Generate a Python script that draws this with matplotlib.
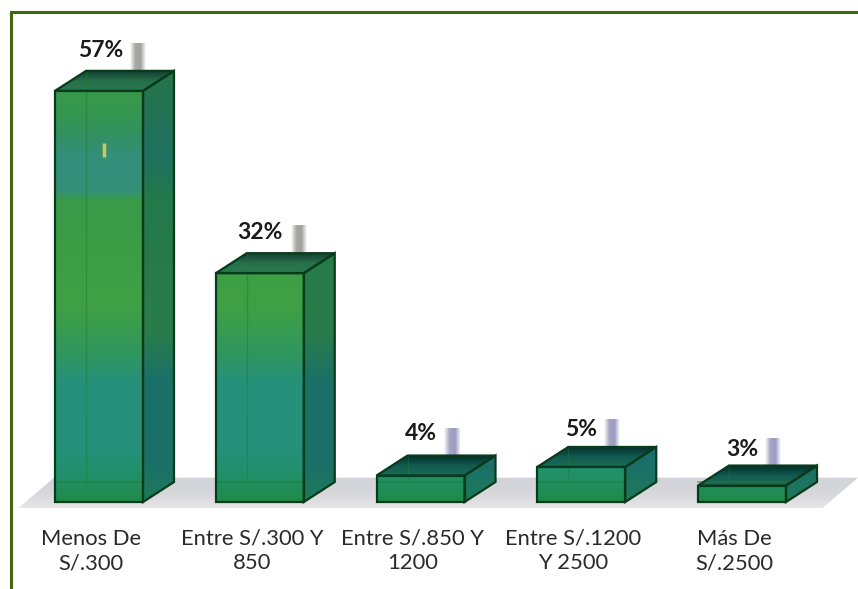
import numpy as np
import matplotlib
matplotlib.use("Agg")
import matplotlib.pyplot as plt
from matplotlib.colors import LinearSegmentedColormap
from matplotlib.patches import Polygon

# datos
categorias = ["Menos De\nS/.300", "Entre S/.300 Y\n850", "Entre S/.850 Y\n1200",
              "Entre S/.1200\nY 2500", "Más De\nS/.2500"]
etiquetas = ["57%", "32%", "4%", "5%", "3%"]
alturas = [57.5, 32.0, 3.7, 4.9, 2.3]

ANCHO, ALTO = 858, 589
PX_X, PX_Y = 160.75, 7.15  # pixeles por categoria y por punto porcentual
X0, Y0 = 99, 502  # pixel de la categoria 0 y de la base
dx, dy = 31 / PX_X, 20 / PX_Y
sube_etiqueta = [20, 21, 22, 17, 16]  # pixeles sobre la tapa

xlim = (-X0 / PX_X, (ANCHO - X0) / PX_X)
ylim = (-(ALTO - Y0) / PX_Y, Y0 / PX_Y)

fig = plt.figure(figsize=(ANCHO / 100, ALTO / 100), dpi=100)
ax = fig.add_axes([0, 0, 1, 1])
ax.axis("off")

# gradiente del frente, de arriba hacia abajo de la figura
frente = LinearSegmentedColormap.from_list("frente", [
    (0.00, "#3a9c48"), (0.10, "#359650"), (0.16, "#338f66"), (0.20, "#33907a"), (0.28, "#338f78"),
    (0.30, "#399a48"), (0.55, "#3fa044"), (0.66, "#2f9660"), (0.72, "#26917a"),
    (0.88, "#24907a"), (0.95, "#219066"), (1.00, "#1f8a48")])
costado = LinearSegmentedColormap.from_list("costado", [
    (0.00, "#25754a"), (0.20, "#1f7060"), (0.30, "#24794a"), (0.60, "#2a7d4a"),
    (0.72, "#1a7068"), (0.92, "#1a7068"), (1.00, "#1f7a58")])
tapa_baja = LinearSegmentedColormap.from_list("tapa", ["#062f2c", "#125c50", "#1e6b58"])
tapa_alta = LinearSegmentedColormap.from_list("t", ["#123f30", "#27704a", "#2a7a50"])
piso = LinearSegmentedColormap.from_list("piso", ["#d2d3d8", "#d6d7db", "#e6e6e8"])
sombra_gris = LinearSegmentedColormap.from_list("sg", ["#ffffff", "#a8a8a0", "#a0a0a0", "#ffffff"])
sombra_azul = LinearSegmentedColormap.from_list("sa", ["#ffffff", "#a5a5c4", "#9c9cc4", "#ffffff"])


def pintar(puntos, cmap, extent=None, vertical=True, zorder=2):
    # imagen con gradiente recortada al poligono
    grad = np.linspace(0, 1, 256)
    grad = grad[:, None] if vertical else grad[None, :]
    if extent is None:
        xs, ys = zip(*puntos)
        extent = (min(xs), max(xs), min(ys), max(ys))
    im = ax.imshow(grad, cmap=cmap, extent=extent, aspect="auto", origin="upper",
                   zorder=zorder, interpolation="bilinear")
    im.set_clip_path(Polygon(puntos, transform=ax.transData))


# marco
ax.plot([xlim[0] + 11 / PX_X, xlim[0] + 11 / PX_X, xlim[1]],
        [ylim[0], ylim[1] - 12 / PX_Y, ylim[1] - 12 / PX_Y],
        color="#40680f", lw=2.2, zorder=1, solid_joinstyle="miter")

# piso gris
izq, der = xlim[0] + 18 / PX_X, xlim[1]
piso_pts = [(izq, -0.9), (izq + 36 / PX_X, 3.4), (der, 3.4), (der - 36 / PX_X, -0.9)]
pintar(piso_pts, piso, zorder=1)

franja = 57.5 + dy
for i, h in enumerate(alturas):
    x1, x2 = i - 44 / PX_X, i + 44 / PX_X
    # sombra detras de la etiqueta
    base_s = h + dy
    s_x = i + (31 if h > 10 else 23) / PX_X
    pintar([(s_x, base_s), (s_x + 16 / PX_X, base_s), (s_x + 16 / PX_X, base_s + 28 / PX_Y),
            (s_x, base_s + 28 / PX_Y)], sombra_gris if h > 10 else sombra_azul,
           vertical=False, zorder=1.5)
    # caras
    cara_f = [(x1, 0), (x2, 0), (x2, h), (x1, h)]
    cara_c = [(x2, 0), (x2 + dx, dy), (x2 + dx, h + dy), (x2, h)]
    cara_t = [(x1, h), (x2, h), (x2 + dx, h + dy), (x1 + dx, h + dy)]
    pintar(cara_f, frente, extent=(x1, x2, 0, franja))
    pintar(cara_c, costado, extent=(x2, x2 + dx, 0, franja))
    pintar(cara_t, tapa_baja if h < 10 else tapa_alta)
    # aristas interiores
    ax.plot([x1 + dx, x1 + dx], [dy, h + dy], color="#1f7a2e", lw=1.0, alpha=0.45, zorder=3)
    ax.plot([x1, x2], [dy, dy], color="#1f7a2e", lw=1.2, alpha=0.55, zorder=3)
    # aristas
    for cara in (cara_f, cara_c, cara_t):
        ax.add_patch(Polygon(cara, closed=True, fill=False, ec="#083a1c", lw=1.6,
                             joinstyle="miter", zorder=4))
    ax.text(i + (2 if i == 0 else 0) / PX_X, h + dy + sube_etiqueta[i] / PX_Y,
            etiquetas[i], ha="center", va="center", fontsize=16.5, fontweight="bold",
            family="Lato", color="#1a1a1a", zorder=5)
    ax.text(i - 8 / PX_X, -49 / PX_Y, categorias[i], ha="center", va="center", fontsize=15.8,
            family="Lato", color="#2a2a2a", linespacing=1.3, zorder=5)

# mancha amarilla del original
ax.plot([5 / PX_X], [49.3], marker="|", ms=10, mew=2.5, color="#e8c860", alpha=0.9, zorder=3)

ax.set_xlim(xlim)
ax.set_ylim(ylim)
fig.savefig("out.png", dpi=100)
